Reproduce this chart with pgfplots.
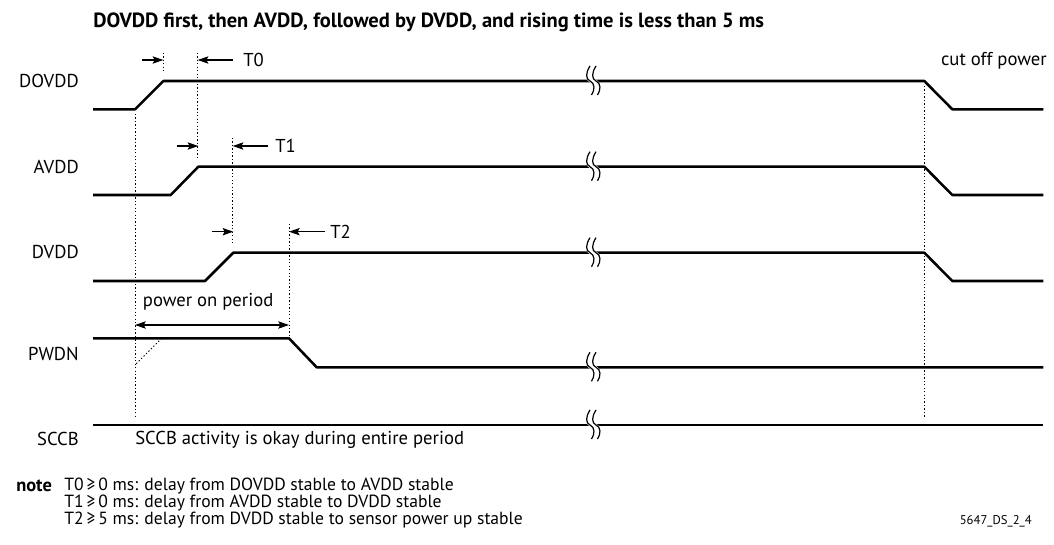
\documentclass[border=0pt]{standalone}
\usepackage{fontspec}
\setmainfont{PT Sans}
\usepackage{pgfplots}
\pgfplotsset{compat=1.18}
\usetikzlibrary{arrows.meta}
\tikzset{
  sig/.style={black, line width=1.9pt, line join=round},
  dots/.style={black, line width=0.7pt, dash pattern=on 1pt off 1.6pt},
  tarr/.style={black, line width=0.9pt, -{Stealth[length=8pt,width=5.5pt,inset=1.5pt]}},
  lbl/.style={font=\fontsize{14}{16}\selectfont, inner sep=0pt},
  nt/.style={anchor=west, inner sep=0pt, font=\fontsize{13.2}{15}\selectfont},
}
\newcommand\brk[1]{%
\begin{scope}[shift={(#1)}, x=0.75pt, y=-0.75pt]
  \draw[white, line width=4.5pt] (2.5,-15) .. controls (-2,-8) and (-2,-2) .. (3,0) .. controls (8,2) and (8,9) .. (4.5,14);
  \draw[black, line width=0.9pt] (0,-15) .. controls (-4.5,-8) and (-4.5,-2) .. (0,0) .. controls (5,2) and (5,9) .. (1.5,14);
  \draw[black, line width=0.9pt] (6,-15) .. controls (1.5,-8) and (1.5,-2) .. (6,0) .. controls (11,2) and (11,9) .. (7.5,14);
\end{scope}}
\begin{document}
\begin{tikzpicture}
\begin{axis}[scale only axis, width=790.5pt, height=408pt,
  xmin=0, xmax=1054, ymin=0, ymax=544, y dir=reverse, hide axis, clip=false]
% signals
\addplot[sig] coordinates {(93,109.3) (135,109.3) (163.3,81) (924.3,81) (952.3,109.3) (1043.3,109.3)};
\addplot[sig] coordinates {(93,195) (170.7,195) (198.3,166.7) (924.3,166.7) (952.3,195) (1043.3,195)};
\addplot[sig] coordinates {(93,281) (205,281) (233.3,252.7) (924.3,252.7) (952.3,281) (1043.3,281)};
\addplot[sig] coordinates {(93,338.3) (289,338.3) (316.7,367.3) (1043.3,367.3)};
\addplot[sig] coordinates {(93,425) (1043.3,425)};
% dotted guides
\addplot[dots] coordinates {(163.3,52.7) (163.3,73)};
\addplot[dots] coordinates {(197.7,52.7) (197.7,159)};
\addplot[dots] coordinates {(232.7,138) (232.7,245)};
\addplot[dots] coordinates {(289,224) (289,340)};
\addplot[dots] coordinates {(135,114) (135,416)};
\addplot[dots] coordinates {(924.3,86) (924.3,417)};
\addplot[dots] coordinates {(161.7,338.3) (135,365)};
% arrows
\addplot[tarr] coordinates {(141.7,60) (163.3,60)};
\addplot[tarr] coordinates {(233,60) (197.7,60)};
\addplot[tarr] coordinates {(176.7,146) (198.3,146)};
\addplot[tarr] coordinates {(268,146) (232.7,146)};
\addplot[tarr] coordinates {(211.7,231.7) (233.3,231.7)};
\addplot[tarr] coordinates {(325,231.7) (289,231.7)};
\addplot[black, line width=0.9pt, {Stealth[length=8pt,width=5.5pt,inset=1.5pt]}-{Stealth[length=8pt,width=5.5pt,inset=1.5pt]}] coordinates {(135,325) (289,325)};
% break marks anchors
\coordinate (b1) at (axis cs:590,81);
\coordinate (b2) at (axis cs:590,166.7);
\coordinate (b3) at (axis cs:590,252.7);
\coordinate (b4) at (axis cs:590,367.3);
\coordinate (b5) at (axis cs:590,425);
% labels
\node[lbl, anchor=east] at (axis cs:79,81) {DOVDD};
\node[lbl, anchor=east] at (axis cs:79,167) {AVDD};
\node[lbl, anchor=east] at (axis cs:79,252) {DVDD};
\node[lbl, anchor=east] at (axis cs:79,353.5) {PWDN};
\node[lbl, anchor=east] at (axis cs:79,439) {SCCB};
\node[lbl, anchor=west] at (axis cs:243,60) {T0};
\node[lbl, anchor=west] at (axis cs:275,146) {T1};
\node[lbl, anchor=west] at (axis cs:330,231.7) {T2};
\node[lbl, anchor=east] at (axis cs:1047,60.7) {cut off power};
\node[lbl, anchor=west] at (axis cs:142.7,301.7) {power on period};
\node[lbl, anchor=west] at (axis cs:135,440) {SCCB activity is okay during entire period};
\node[anchor=west, inner sep=0pt, font=\bfseries\fontsize{15.4}{17}\selectfont] at (axis cs:93,22) {DOVDD first, then AVDD, followed by DVDD, and rising time is less than 5 ms};
\node[anchor=west, inner sep=0pt, font=\bfseries\fontsize{13.8}{15}\selectfont] at (axis cs:16,486) {note};
\node[nt] at (axis cs:64,486) {T0\,≥\,0 ms: delay from DOVDD stable to AVDD stable};
\node[nt] at (axis cs:64,503) {T1\,≥\,0 ms: delay from AVDD stable to DVDD stable};
\node[nt] at (axis cs:64,520) {T2\,≥\,5 ms: delay from DVDD stable to sensor power up stable};
\node[anchor=east, inner sep=0pt, font=\fontsize{9.5}{11}\selectfont] at (axis cs:1032,521) {5647\_DS\_2\_4};
\end{axis}
\brk{b1}\brk{b2}\brk{b3}\brk{b4}\brk{b5}
\pgfresetboundingbox
\path (current axis.south west) rectangle (current axis.north east);
\end{tikzpicture}
\end{document}
